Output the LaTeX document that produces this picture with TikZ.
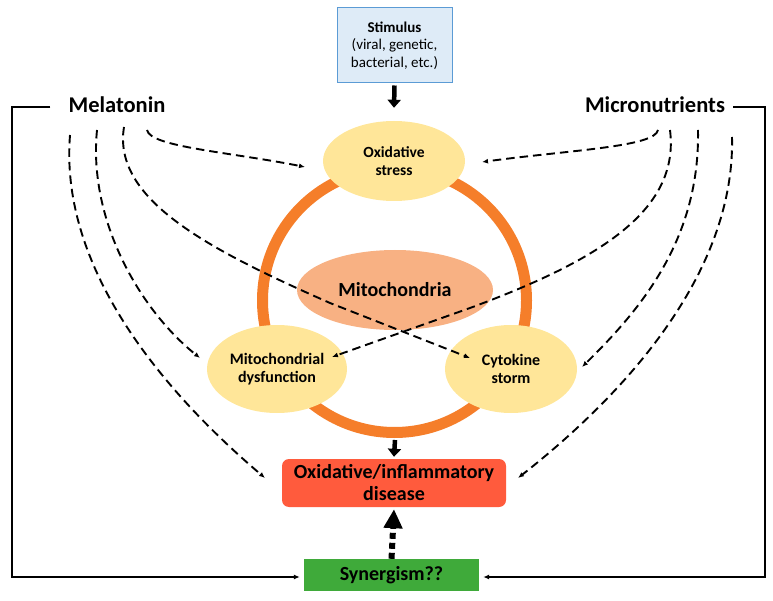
\documentclass[tikz,border=0pt]{standalone}
\usepackage{fontspec}
\setmainfont{Carlito}
\usetikzlibrary{arrows.meta,shapes.geometric}
\definecolor{stimfill}{HTML}{DEEBF7}
\definecolor{stimdraw}{HTML}{5B9BD5}
\definecolor{ellfill}{HTML}{FFE699}
\definecolor{ringc}{HTML}{F57E2A}
\definecolor{mitofill}{HTML}{F8B183}
\definecolor{disfill}{HTML}{FF5B3D}
\definecolor{synfill}{HTML}{3FAA3A}
\tikzset{
  ell/.style={ellipse, fill=ellfill, inner sep=0pt, align=center, font=\fontsize{16}{18}\selectfont\bfseries},
  dasharr/.style={line width=1.9pt, dash pattern=on 8.5pt off 5pt, -{Latex[length=6pt,width=5pt]}},
  solidarr/.style={line width=1.6pt, -{Latex[length=6pt,width=5pt]}},
  thickarr/.style={line width=4.5pt, -{Triangle[length=8pt,width=13pt]}},
  bigtxt/.style={font=\fontsize{22.5}{26}\selectfont\bfseries, inner sep=0pt}
}
\begin{document}
\begin{tikzpicture}[x=1pt,y=-1pt]
\useasboundingbox (0,0) rectangle (773,601);
% ring
\draw[ringc, line width=11pt] (394.5,300.5) circle[radius=132];
% nodes
\node[draw=stimdraw, line width=1pt, fill=stimfill, minimum width=115pt, minimum height=75pt, inner sep=0pt, align=center, font=\fontsize{15}{17.5}\selectfont] (stim) at (394.5,45.5) {\textbf{Stimulus}\\(viral, genetic,\\bacterial, etc.)};
\node[ell, minimum width=142pt, minimum height=80pt, font=\fontsize{15.5}{17.5}\selectfont\bfseries] (ox) at (394,161) {Oxidative\\stress};
\node[ellipse, fill=mitofill, minimum width=196pt, minimum height=80pt, inner sep=0pt, font=\fontsize{20}{24}\selectfont\bfseries] (mito) at (395,290) {Mitochondria};
\node[ell, minimum width=140pt, minimum height=88pt] (mdys) at (277,369) {Mitochondrial\\dysfunction};
\node[ell, minimum width=132pt, minimum height=88pt] (cyto) at (511,369) {Cytokine\\storm};
\node[fill=disfill, rounded corners=7pt, minimum width=224pt, minimum height=48pt, inner sep=0pt, align=center, font=\fontsize{20}{22}\selectfont\bfseries] (dis) at (394,483) {Oxidative/inflammatory\\disease};
\node[fill=synfill, minimum width=175pt, minimum height=32pt, inner sep=0pt, font=\fontsize{20}{22}\selectfont\bfseries] (syn) at (391.5,575) {Synergism??};
\node[bigtxt] (mel) at (117,105) {Melatonin};
\node[bigtxt] (mic) at (655,105) {Micronutrients};
% thick arrows
\draw[thickarr] ([yshift=-2pt]stim.south) -- ([yshift=13pt]ox.north);
\coordinate (ringbot) at (395,440);
\draw[thickarr] (ringbot) -- ([yshift=2pt]dis.north);
\draw[line width=6pt, dash pattern=on 6pt off 4pt, -{Triangle[length=19pt,width=18pt]}] (syn.north) -- ([yshift=-2pt]dis.south);
% brackets
\coordinate (lc) at (12,107);
\coordinate (rc) at (765,107);
\draw[solidarr, line join=miter] ([xshift=-18pt,yshift=-2pt]mel.west) -- (lc) -- (12,577) -- ([xshift=-4pt,yshift=-2pt]syn.west);
\draw[solidarr, line join=miter] ([xshift=8pt,yshift=-2pt]mic.east) -- (rc) -- (765,577) -- ([xshift=4pt,yshift=-2pt]syn.east);
% melatonin dashed curves
\coordinate (m1) at (147,130);
\coordinate (m2) at (124,127);
\coordinate (m3) at (97,130);
\coordinate (m4) at (70,135);
\coordinate (oxl) at (305,167);
\coordinate (cytl) at (470,358);
\coordinate (mdysl) at (200,358);
\coordinate (disl) at (265,478);
\draw[dasharr] (m1) .. controls (150,147) and (230,152) .. (oxl);
\draw[dasharr] (m2) .. controls (112,200) and (210,250) .. (330,303) -- (cytl);
\draw[dasharr] (m3) .. controls (88,220) and (140,310) .. (mdysl);
\draw[dasharr] (m4) .. controls (60,260) and (150,380) .. (disl);
% micronutrient dashed curves
\coordinate (n1) at (658,130);
\coordinate (n2) at (670,130);
\coordinate (n3) at (698,130);
\coordinate (n4) at (732,137);
\coordinate (oxr) at (482,162);
\coordinate (mdysr) at (332,357);
\coordinate (cytr) at (582,367);
\coordinate (disr) at (518,478);
\draw[dasharr] (n1) .. controls (655,147) and (570,150) .. (oxr);
\draw[dasharr] (n2) .. controls (680,210) and (600,260) .. (470,308) -- (mdysr);
\draw[dasharr] (n3) .. controls (700,240) and (640,310) .. (cytr);
\draw[dasharr] (n4) .. controls (735,270) and (630,390) .. (disr);
\end{tikzpicture}
\end{document}
